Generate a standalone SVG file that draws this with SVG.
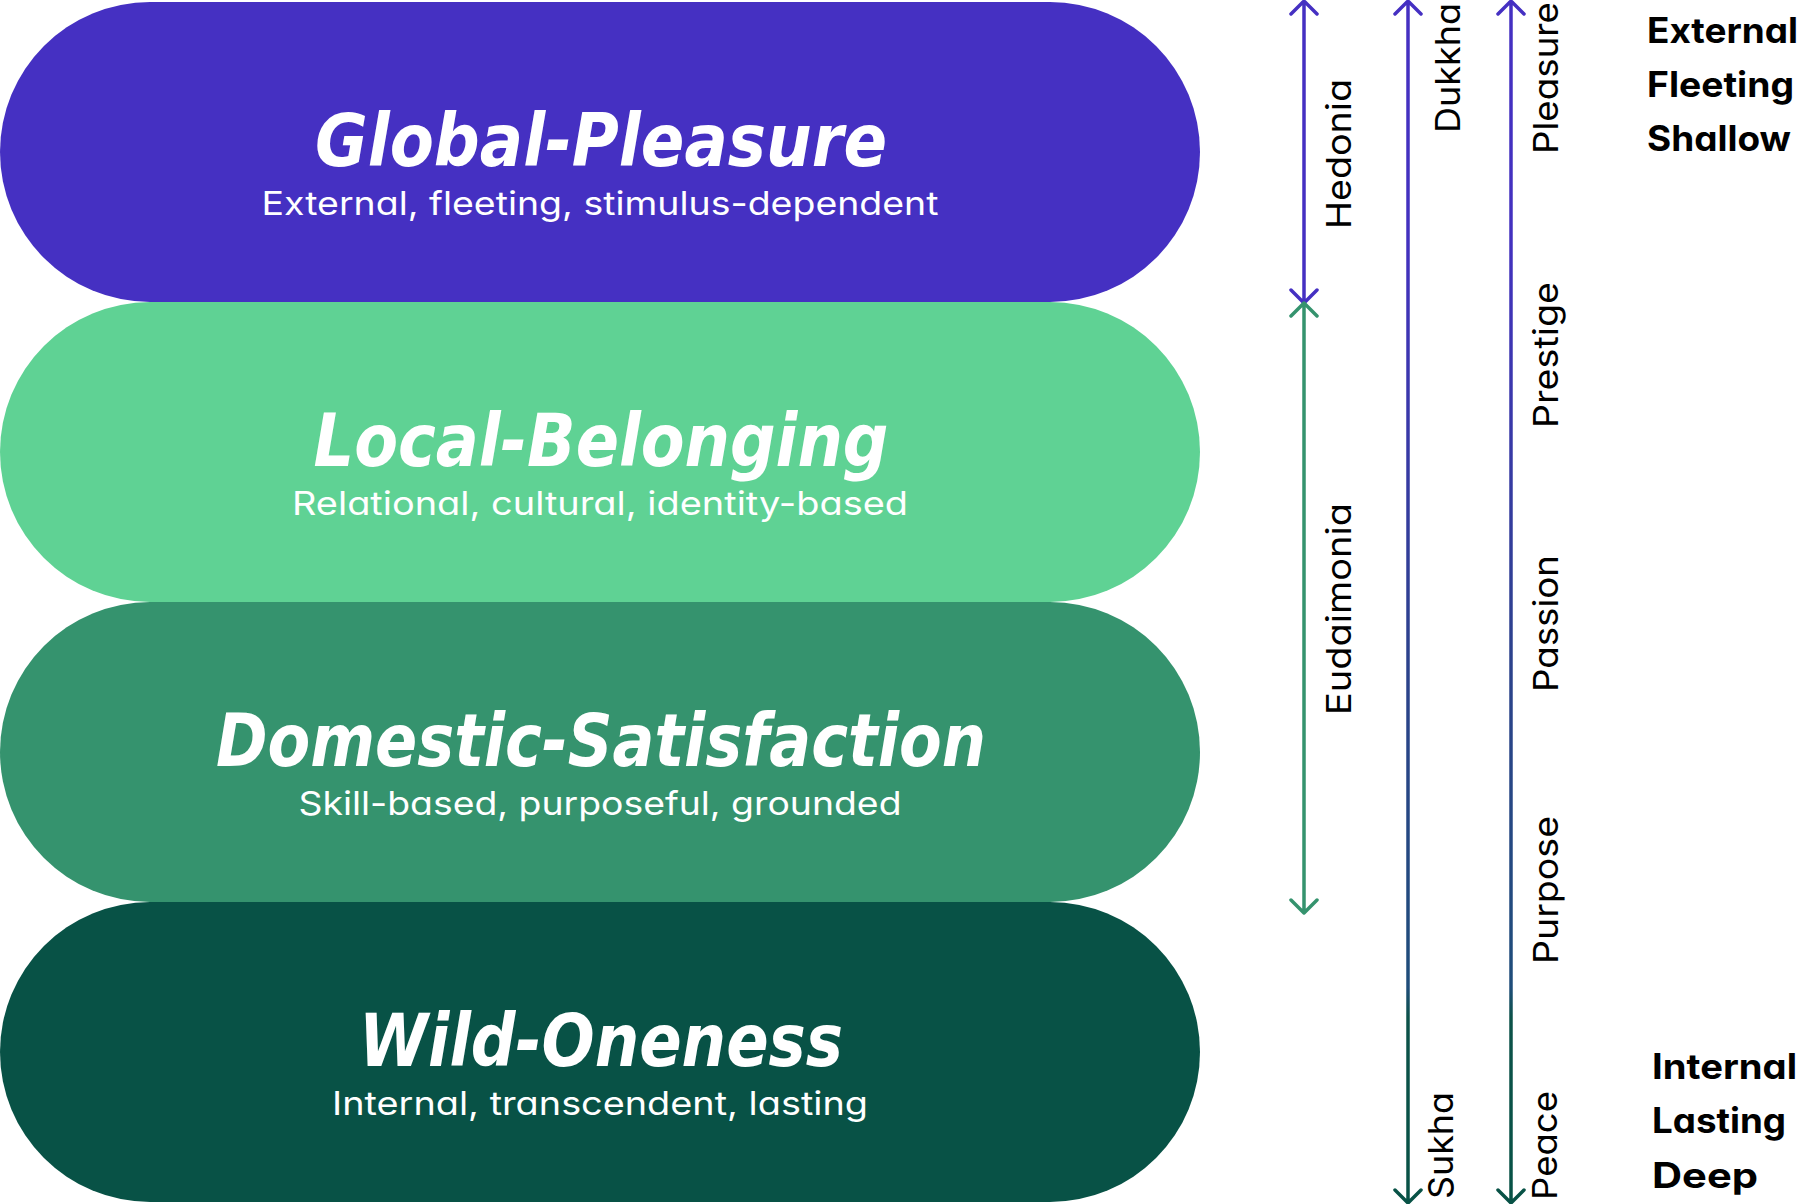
<svg xmlns="http://www.w3.org/2000/svg" width="1800" height="1204" viewBox="0 0 1800 1204">
  <defs>
    <linearGradient id="depth" gradientUnits="userSpaceOnUse" x1="0" y1="0" x2="0" y2="1204">
      <stop offset="0" stop-color="#4530C2"/>
      <stop offset="0.2" stop-color="#4331BF"/>
      <stop offset="0.55" stop-color="#2C428C"/>
      <stop offset="0.82" stop-color="#1F4D7A"/>
      <stop offset="0.845" stop-color="#0C5249"/>
      <stop offset="1" stop-color="#085246"/>
    </linearGradient>
  </defs>
  <style>
    .title { font-family: 'Liberation Sans Narrow', 'DejaVu Sans Condensed', 'Liberation Sans', sans-serif; font-weight: bold; font-style: italic; font-size: 73px; fill: #FFFFFF; text-anchor: middle; }
    .sub { font-family: Inter, 'Noto Sans', sans-serif; font-feature-settings: 'cv11' 1; font-size: 33px; fill: #FFFFFF; text-anchor: middle; }
    .vlabel { font-family: Inter, 'Noto Sans', sans-serif; font-feature-settings: 'cv11' 1; font-size: 34px; fill: #000000; text-anchor: middle; }
    .side { font-family: Inter, 'Noto Sans', sans-serif; font-feature-settings: 'cv11' 1; font-weight: bold; font-size: 35px; fill: #000000; }
    .arrow { fill: none; stroke-width: 3.5; stroke-linecap: round; stroke-linejoin: round; }
  </style>

  <g id="node-global-pleasure">
    <rect x="0" y="2" width="1200" height="300" rx="150" ry="150" fill="#4530C2"/>
    <text class="title" x="601" y="166" textLength="572" lengthAdjust="spacingAndGlyphs">Global-Pleasure</text>
    <text class="sub" x="600" y="215" textLength="677" lengthAdjust="spacingAndGlyphs">External, fleeting, stimulus-dependent</text>
  </g>
  <g id="node-local-belonging">
    <rect x="0" y="302" width="1200" height="300" rx="150" ry="150" fill="#5FD294"/>
    <text class="title" x="601" y="466" textLength="575" lengthAdjust="spacingAndGlyphs">Local-Belonging</text>
    <text class="sub" x="600" y="515" textLength="616" lengthAdjust="spacingAndGlyphs">Relational, cultural, identity-based</text>
  </g>
  <g id="node-domestic-satisfaction">
    <rect x="0" y="602" width="1200" height="300" rx="150" ry="150" fill="#35936E"/>
    <text class="title" x="601" y="766" textLength="770" lengthAdjust="spacingAndGlyphs">Domestic-Satisfaction</text>
    <text class="sub" x="600" y="815" textLength="603" lengthAdjust="spacingAndGlyphs">Skill-based, purposeful, grounded</text>
  </g>
  <g id="node-wild-oneness">
    <rect x="0" y="902" width="1200" height="300" rx="150" ry="150" fill="#085246"/>
    <text class="title" x="601" y="1066" textLength="484" lengthAdjust="spacingAndGlyphs">Wild-Oneness</text>
    <text class="sub" x="600" y="1115" textLength="536" lengthAdjust="spacingAndGlyphs">Internal, transcendent, lasting</text>
  </g>

  <g id="connectors">
    <path class="arrow" stroke="#4530C2" d="M1304,1 V303 M1291,14 L1304,1 L1317,14 M1291,290 L1304,303 L1317,290"/>
    <path class="arrow" stroke="#35936E" d="M1304,303 V913 M1291,316 L1304,303 L1317,316 M1291,900 L1304,913 L1317,900"/>
    <path class="arrow" stroke="url(#depth)" d="M1408,1 V1203 M1395,14 L1408,1 L1421,14 M1395,1190 L1408,1203 L1421,1190"/>
    <path class="arrow" stroke="url(#depth)" d="M1511,1 V1203 M1498,14 L1511,1 L1524,14 M1498,1190 L1511,1203 L1524,1190"/>
  </g>

  <g id="axis-labels">
    <text class="vlabel" transform="translate(1351,154) rotate(-90)" textLength="150" lengthAdjust="spacingAndGlyphs">Hedonia</text>
    <text class="vlabel" transform="translate(1351,609) rotate(-90)" textLength="212" lengthAdjust="spacingAndGlyphs">Eudaimonia</text>
    <text class="vlabel" transform="translate(1460,68) rotate(-90)" textLength="130" lengthAdjust="spacingAndGlyphs">Dukkha</text>
    <text class="vlabel" transform="translate(1453,1145.5) rotate(-90)" textLength="107" lengthAdjust="spacingAndGlyphs">Sukha</text>
    <text class="vlabel" transform="translate(1558,78) rotate(-90)" textLength="152" lengthAdjust="spacingAndGlyphs">Pleasure</text>
    <text class="vlabel" transform="translate(1558,355) rotate(-90)" textLength="146" lengthAdjust="spacingAndGlyphs">Prestige</text>
    <text class="vlabel" transform="translate(1558,623.5) rotate(-90)" textLength="137" lengthAdjust="spacingAndGlyphs">Passion</text>
    <text class="vlabel" transform="translate(1558,890) rotate(-90)" textLength="148" lengthAdjust="spacingAndGlyphs">Purpose</text>
    <text class="vlabel" transform="translate(1557,1145.5) rotate(-90)" textLength="109" lengthAdjust="spacingAndGlyphs">Peace</text>
  </g>

  <g id="side-labels">
    <text class="side" x="1647" y="43" textLength="151" lengthAdjust="spacingAndGlyphs">External</text>
    <text class="side" x="1647" y="97" textLength="147" lengthAdjust="spacingAndGlyphs">Fleeting</text>
    <text class="side" x="1647" y="151" textLength="144" lengthAdjust="spacingAndGlyphs">Shallow</text>
    <text class="side" x="1652" y="1079" textLength="145" lengthAdjust="spacingAndGlyphs">Internal</text>
    <text class="side" x="1652" y="1133" textLength="134" lengthAdjust="spacingAndGlyphs">Lasting</text>
    <text class="side" x="1652" y="1188" textLength="106" lengthAdjust="spacingAndGlyphs">Deep</text>
  </g>
</svg>
